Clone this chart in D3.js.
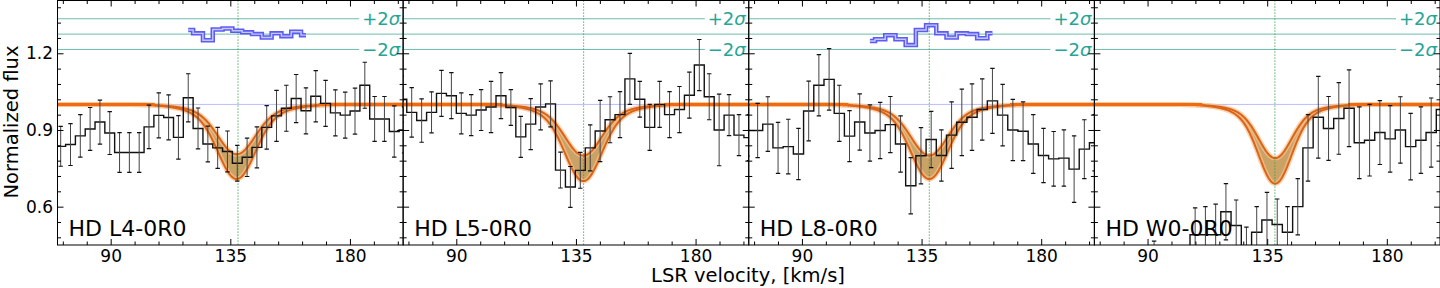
<!DOCTYPE html>
<html>
<head>
<meta charset="utf-8">
<script src="https://cdn.jsdelivr.net/npm/d3@7"></script>
<style>
  body { margin: 0; background: #fff; }
  svg { display: block; }
  text { font-family: "DejaVu Sans", sans-serif; }
</style>
</head>
<body>
<svg id="chart" width="1440" height="288"></svg>
<script>
// ---- data ----
const panelNames = ['HD L4-0R0', 'HD L5-0R0', 'HD L8-0R0', 'HD W0-0R0'];

// first bin centre and bin width (km/s) of each spectrum
const binStart = [71.2, 69.5, 69.5, 69.3];
const binWidth = [3.69, 3.73, 3.84, 3.86];

const fluxL4 = [0.836, 0.843, 0.877, 0.904, 0.931, 0.888, 0.812, 0.812, 0.812, 0.912,
  0.957, 0.949, 0.871, 1.026, 0.906, 0.845, 0.83, 0.816, 0.77, 0.793,
  0.832, 0.91, 0.955, 0.985, 1.023, 0.975, 1.032, 1.004, 0.967, 0.958,
  0.974, 1.075, 0.943, 0.943, 0.894, 0.90];
const errL4 = [0.078, 0.082, 0.083, 0.084, 0.086, 0.084, 0.078, 0.078, 0.078, 0.085,
  0.088, 0.088, 0.085, 0.094, 0.08, 0.07, 0.08, 0.08, 0.07, 0.075,
  0.08, 0.085, 0.1, 0.09, 0.094, 0.09, 0.1, 0.09, 0.09, 0.09,
  0.09, 0.09, 0.088, 0.088, 0.1, 0.09];

const fluxL5 = [1.02, 0.969, 0.937, 0.969, 1.043, 1.034, 0.965, 0.958, 0.978, 0.99,
  1.034, 0.988, 0.873, 0.923, 0.99, 1.002, 0.743, 0.677, 0.742, 0.83,
  0.896, 0.94, 0.96, 1.10, 1.02, 0.91, 1.0, 0.96, 0.98, 1.036,
  1.154, 1.03, 0.9, 0.958, 0.88, 0.87];
const errL5 = [0.09, 0.097, 0.085, 0.08, 0.09, 0.09, 0.08, 0.08, 0.08, 0.1,
  0.09, 0.07, 0.08, 0.1, 0.09, 0.09, 0.07, 0.08, 0.07, 0.09,
  0.12, 0.09, 0.09, 0.1, 0.07, 0.09, 0.09, 0.09, 0.09, 0.09,
  0.1, 0.09, 0.14, 0.08, 0.08, 0.09];

const fluxL8 = [0.898, 0.898, 0.923, 0.83, 0.835, 0.806, 0.974, 1.075, 1.098, 0.965,
  0.876, 0.931, 0.888, 0.898, 0.921, 0.845, 0.682, 0.799, 0.863, 0.80,
  0.88, 0.93, 0.95, 0.98, 1.014, 0.958, 0.9, 0.895, 0.845, 0.8,
  0.787, 0.79, 0.747, 0.825, 0.85];
const errL8 = [0.1, 0.106, 0.107, 0.1, 0.107, 0.1, 0.117, 0.12, 0.12, 0.11,
  0.1, 0.11, 0.11, 0.11, 0.11, 0.11, 0.11, 0.11, 0.11, 0.1,
  0.13, 0.13, 0.13, 0.12, 0.127, 0.12, 0.12, 0.115, 0.115, 0.106,
  0.107, 0.11, 0.13, 0.115, 0.11];

const fluxW0 = [0.38, 0.36, 0.35, 0.36, 0.35, 0.36, 0.37, 0.34, 0.36, 0.38,
  0.49, 0.49, 0.49, 0.58, 0.526, 0.43, 0.50, 0.548, 0.53, 0.50,
  0.60, 0.83, 0.95, 0.906, 0.945, 0.985, 0.85, 0.86, 0.89, 0.865,
  0.90, 0.835, 0.86, 0.89, 0.98];
const errW0 = [0.06, 0.07, 0.08, 0.07, 0.08, 0.08, 0.095, 0.08, 0.06, 0.05,
  0.105, 0.11, 0.12, 0.11, 0.10, 0.09, 0.10, 0.108, 0.10, 0.10,
  0.11, 0.13, 0.16, 0.125, 0.14, 0.15, 0.14, 0.14, 0.125, 0.13,
  0.13, 0.13, 0.13, 0.135, 0.13];

const fluxes = [fluxL4, fluxL5, fluxL8, fluxW0];
const errors = [errL4, errL5, errL8, errW0];

// blue residual traces (bin index where they start, values)
const residStart = [13, null, 12, null];
const residL4 = [1.291, 1.278, 1.251, 1.293, 1.297, 1.288, 1.282, 1.275, 1.262, 1.278, 1.267, 1.284, 1.271];
const residL8 = [1.248, 1.255, 1.271, 1.255, 1.232, 1.291, 1.31, 1.278, 1.262, 1.278, 1.275, 1.259, 1.278];
const residuals = [residL4, null, residL8, null];

// fitted absorption model (two envelopes: core gaussian + weak broad wing)
const lineCentre = [137.4, 137.8, 137.9, 138.0];
const modelUpperMin = [0.805, 0.80, 0.80, 0.79];
const modelLowerMin = [0.708, 0.70, 0.708, 0.69];
const modelWidth = [6.7, 6.6, 6.6, 5.95];
const wingWeight = 0.2, wingScale = 2.0;
const markVelocity = 137.9;

const sigmaLevels = [1.335, 1.275, 1.215];
const xTicks = [90, 135, 180];
const xMinor = [72, 81, 99, 108, 117, 126, 144, 153, 162, 171, 189, 198];
const yTicks = [0.6, 0.9, 1.2];
const yMinor = [0.48, 0.54, 0.66, 0.72, 0.78, 0.84, 0.96, 1.02, 1.08, 1.14, 1.26, 1.32, 1.38];

// ---- layout ----
const svg = d3.select('#chart');
const plotLeft = 57.5, panelW = 345.625, plotTop = 0.5, plotBottom = 245;
const fs = 17;

const y = d3.scaleLinear().domain([0.45, 1.4065]).range([plotBottom, plotTop]);

const defs = svg.append('defs');

panelNames.forEach((name, i) => {
    const x0 = plotLeft + i * panelW;
    const x = d3.scaleLinear().domain([70, 200]).range([x0, x0 + panelW]);

    defs.append('clipPath').attr('id', 'clip' + i)
        .append('rect').attr('x', x0).attr('y', plotTop).attr('width', panelW).attr('height', plotBottom - plotTop);

    const g = svg.append('g');
    const inner = g.append('g').attr('clip-path', `url(#clip${i})`);

    // sigma reference lines
    inner.selectAll('.sig').data(sigmaLevels).enter().append('line')
        .attr('x1', x0).attr('x2', x0 + panelW)
        .attr('y1', d => y(d)).attr('y2', d => y(d))
        .attr('stroke', '#6cbcae').attr('stroke-width', 1);

    // continuum reference
    inner.append('line')
        .attr('x1', x0).attr('x2', x0 + panelW)
        .attr('y1', y(1)).attr('y2', y(1))
        .attr('stroke', '#b8bcff').attr('stroke-width', 1);

    // model envelopes
    const vs = d3.range(70, 200.01, 0.25);
    const shape = v => {
        const u = (v - lineCentre[i]) / modelWidth[i];
        return (1 - wingWeight) * Math.exp(-0.5 * u * u) + wingWeight * Math.exp(-0.5 * (u / wingScale) ** 2);
    };
    const band = vs.map(v => ({
        v,
        hi: 1 - (1 - modelUpperMin[i]) * shape(v),
        lo: 1 - (1 - modelLowerMin[i]) * shape(v)
    }));

    inner.append('path').datum(band)
        .attr('d', d3.area().x(d => x(d.v)).y0(d => y(d.lo)).y1(d => y(d.hi)))
        .attr('fill', '#c9a266');

    const lineHi = d3.line().x(d => x(d.v)).y(d => y(d.hi));
    const lineLo = d3.line().x(d => x(d.v)).y(d => y(d.lo));
    [lineHi, lineLo].forEach(l => {
        inner.append('path').datum(band).attr('d', l)
            .attr('fill', 'none').attr('stroke', '#f6c28e').attr('stroke-width', 5).attr('stroke-opacity', 0.7);
    });
    [lineHi, lineLo].forEach(l => {
        inner.append('path').datum(band).attr('d', l)
            .attr('fill', 'none').attr('stroke', '#dc6418').attr('stroke-width', 2);
    });
    // flat continuum of the fit
    const flatCut = 4.6 * modelWidth[i];
    inner.append('line')
        .attr('x1', x0).attr('x2', x(lineCentre[i] - flatCut))
        .attr('y1', y(1)).attr('y2', y(1))
        .attr('stroke', '#f06a12').attr('stroke-width', 3);
    inner.append('line')
        .attr('x1', x(lineCentre[i] + flatCut)).attr('x2', x0 + panelW)
        .attr('y1', y(1)).attr('y2', y(1))
        .attr('stroke', '#f06a12').attr('stroke-width', 3);

    // line position marker
    inner.append('line')
        .attr('x1', x(markVelocity)).attr('x2', x(markVelocity))
        .attr('y1', plotTop).attr('y2', plotBottom)
        .attr('stroke', '#2f9e3a').attr('stroke-width', 1).attr('stroke-dasharray', '1.2,1.8');

    // data histogram
    const bins = fluxes[i].map((f, k) => ({ v: binStart[i] + k * binWidth[i], f, e: errors[i][k] }));
    const stepPts = [];
    bins.forEach(b => {
        stepPts.push([b.v - binWidth[i] / 2, b.f]);
        stepPts.push([b.v + binWidth[i] / 2, b.f]);
    });
    inner.append('path').datum(stepPts)
        .attr('d', d3.line().x(d => x(d[0])).y(d => y(d[1])))
        .attr('fill', 'none').attr('stroke', '#111').attr('stroke-width', 1.4);

    // error bars
    const eb = inner.append('g');
    bins.forEach(b => {
        const cx = x(b.v);
        eb.append('line').attr('x1', cx).attr('x2', cx)
            .attr('y1', y(b.f - b.e)).attr('y2', y(b.f + b.e))
            .attr('stroke', '#444').attr('stroke-width', 1);
        [b.f - b.e, b.f + b.e].forEach(v => {
            eb.append('line').attr('x1', cx - 2.2).attr('x2', cx + 2.2)
                .attr('y1', y(v)).attr('y2', y(v))
                .attr('stroke', '#111').attr('stroke-width', 1.2);
        });
    });

    // residual trace
    if (residuals[i]) {
        const rpts = residuals[i].map((r, k) => [bins[residStart[i] + k].v, r]);
        const rl = d3.line().x(d => x(d[0])).y(d => y(d[1])).curve(d3.curveStep);
        inner.append('path').datum(rpts).attr('d', rl)
            .attr('fill', 'none').attr('stroke', '#5c5cf2').attr('stroke-width', 4.5);
        inner.append('path').datum(rpts).attr('d', rl)
            .attr('fill', 'none').attr('stroke', '#c4c6ff').attr('stroke-width', 1.4);
    }

    // sigma labels
    [[sigmaLevels[0], '+2'], [sigmaLevels[2], '\u22122']].forEach(([lv, pre]) => {
        const t = g.append('text')
            .attr('x', x0 + panelW - 3).attr('y', y(lv)).attr('dy', '0.35em')
            .attr('text-anchor', 'end').attr('font-size', 18).attr('fill', '#26a596');
        t.append('tspan').text(pre);
        t.append('tspan').attr('font-style', 'italic').text('\u03c3');
        const bb = t.node().getBBox();
        g.insert('rect', 'text').attr('x', bb.x - 3).attr('y', bb.y + 2)
            .attr('width', x0 + panelW - bb.x + 2).attr('height', bb.height - 4).attr('fill', '#fff');
    });

    // panel label
    g.append('text').attr('x', x0 + 11).attr('y', 236)
        .attr('font-size', 22).attr('fill', '#000').text(name);

    // frame
    g.append('rect').attr('x', x0).attr('y', plotTop).attr('width', panelW).attr('height', plotBottom - plotTop)
        .attr('fill', 'none').attr('stroke', '#000').attr('stroke-width', 1);

    // ticks (inward, all four sides)
    const ax = (gen, tx) => g.append('g').attr('transform', tx).call(gen).call(s => s.select('.domain').remove());
    ax(d3.axisBottom(x).tickValues(xTicks).tickSize(-6).tickPadding(5).tickFormat(d3.format('d')), `translate(0,${plotBottom})`)
        .selectAll('text').attr('font-size', fs).attr('fill', '#000').attr('font-family', '"DejaVu Sans"');
    ax(d3.axisBottom(x).tickValues(xMinor).tickSize(-3.5).tickFormat(''), `translate(0,${plotBottom})`);
    ax(d3.axisTop(x).tickValues(xTicks).tickSize(-6).tickFormat(''), `translate(0,${plotTop})`);
    ax(d3.axisTop(x).tickValues(xMinor).tickSize(-3.5).tickFormat(''), `translate(0,${plotTop})`);
    const yl = ax(d3.axisLeft(y).tickValues(yTicks).tickSize(-6).tickPadding(4.5).tickFormat(i === 0 ? d3.format('.1f') : ''), `translate(${x0},0)`);
    yl.selectAll('text').attr('font-size', fs).attr('fill', '#000').attr('font-family', '"DejaVu Sans"');
    ax(d3.axisLeft(y).tickValues(yMinor).tickSize(-3.5).tickFormat(''), `translate(${x0},0)`);
    ax(d3.axisRight(y).tickValues(yTicks).tickSize(-6).tickFormat(''), `translate(${x0 + panelW},0)`);
    ax(d3.axisRight(y).tickValues(yMinor).tickSize(-3.5).tickFormat(''), `translate(${x0 + panelW},0)`);
});

svg.selectAll('.tick line').attr('stroke', '#000').attr('stroke-width', 1);

// axis titles
svg.append('text').attr('transform', 'translate(18,122) rotate(-90)')
    .attr('text-anchor', 'middle').attr('font-size', 19.5).text('Normalized flux');
svg.append('text').attr('x', 748).attr('y', 282)
    .attr('text-anchor', 'middle').attr('font-size', 19.5).text('LSR velocity, [km/s]');
</script>
</body>
</html>
